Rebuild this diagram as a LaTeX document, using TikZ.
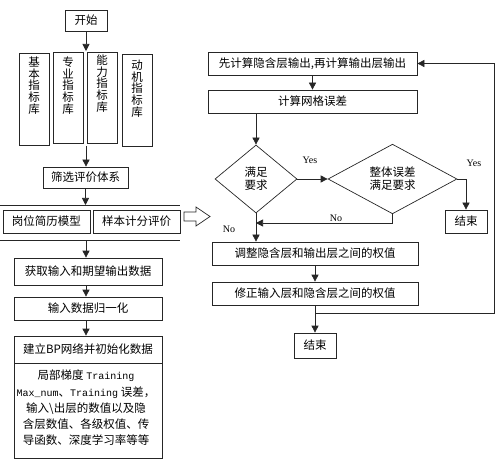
\documentclass[tikz,border=0pt]{standalone}
\usepackage{fontspec}
\setmainfont{Noto Sans CJK SC}
\newfontfamily\latinfont{Liberation Serif}
\newfontfamily\monofont{Liberation Mono}
\newcommand{\mtext}[1]{{\monofont\fontsize{10}{16.25}\selectfont #1}}
\usepackage{tikz}
\usetikzlibrary{shapes,arrows.meta,positioning}

\begin{document}
\begin{tikzpicture}[x=1pt, y=-1pt, text=black,
  box/.style={draw=black!85, line width=0.7pt, inner sep=1pt,
    font=\fontsize{11.5}{13}\selectfont},
  vtext/.style={anchor=north, align=center, inner sep=0pt,
    font=\fontsize{11.5}{11.7}\selectfont},
  dia/.style={draw=black!85, line width=0.7pt, diamond, inner sep=0pt,
    align=center, font=\fontsize{11.5}{13}\selectfont},
  yn/.style={inner sep=0pt, font=\latinfont\fontsize{10}{12}\selectfont},
  arr/.style={draw=black!85, line width=0.7pt, -{Triangle[length=7pt,width=7pt]}},
  line/.style={draw=black!85, line width=0.7pt}]
\useasboundingbox (0,0) rectangle (500,462);

% left column
\path (86,20.5) node (start) [box, minimum width=42pt, minimum height=21pt] {开始};

\path (34,99) node (lib1) [box, minimum width=30pt, minimum height=92pt] {};
\path (68,97.5) node (lib2) [box, minimum width=30pt, minimum height=91pt] {};
\path (102,97.5) node (lib3) [box, minimum width=30pt, minimum height=91pt] {};
\path (137,100) node (lib4) [box, minimum width=30pt, minimum height=92pt] {};
\path (lib1.north)+(0,4) node (lib1txt) [vtext] {基\\本\\指\\标\\库};
\path (lib2.north)+(0,5) node (lib2txt) [vtext] {专\\业\\指\\标\\库};
\path (lib3.north)+(0,3) node (lib3txt) [vtext] {能\\力\\指\\标\\库};
\path (lib4.north)+(0,6) node (lib4txt) [vtext] {动\\机\\指\\标\\库};

\coordinate (libtop) at (86,51);
\coordinate (libbot) at (86,146);
\draw[arr] (start.south) -- (libtop);

\path (85.5,177.5) node (screen) [box, minimum width=85pt, minimum height=21pt] {筛选评价体系};
\draw[arr] (libbot) -- (libbot |- screen.north);

\coordinate (lineA) at (0,205);
\coordinate (lineB) at (86,240);
\draw[line] (lineA) -- (180,205);
\draw[line] (0,240) -- (180,240);
\draw[arr] (screen.south) -- (screen.south |- lineA);

\path (46.5,221.5) node (model) [box, minimum width=87pt, minimum height=23pt] {岗位简历模型};
\path (136.5,221.5) node (sample) [box, minimum width=87pt, minimum height=23pt] {样本计分评价};

% hollow block arrow
\draw[line] (184,212) -- (196,212) -- (196,207) -- (210,216.5)
  -- (196,226) -- (196,221) -- (184,221) -- cycle;

\path (88,271.5) node (getdata) [box, minimum width=148pt, minimum height=27pt] {获取输入和期望输出数据};
\path (88,308.5) node (norm) [box, minimum width=148pt, minimum height=23pt] {输入数据归一化};
\path (88,349.5) node (bpnet) [box, minimum width=148pt, minimum height=27pt] {建立BP网络并初始化数据};
\path (88,410.5) node (param) [box, minimum width=148pt, minimum height=95pt] {};
\path (86,408) node (paramtxt) [align=center, inner sep=0pt,
    font=\fontsize{11.5}{16.25}\selectfont]
  {局部梯度 \mtext{Training}\\
   \mtext{Max\_num}、\mtext{Training} 误差，\\
   输入\textbackslash 出层的数值以及隐\\
   含层数值、各级权值、传\\
   导函数、深度学习率等等};

\draw[arr] (lineB) -- (lineB |- getdata.north);
\draw[arr] (getdata.south -| lineB) -- (norm.north -| lineB);
\draw[arr] (norm.south -| lineB) -- (bpnet.north -| lineB);

% right column
\path (312.5,63.5) node (hidden) [box, minimum width=209pt, minimum height=23pt] {先计算隐含层输出,再计算输出层输出};
\path (312.5,101.5) node (neterr) [box, minimum width=209pt, minimum height=23pt] {计算网格误差};
\draw[arr] (hidden.south) -- (neterr.north);

\path (256,179) node (meet) [dia, minimum width=82pt, minimum height=68pt] {满足\\要求};
\path (392.5,179) node (total) [dia, minimum width=129pt, minimum height=68pt] {整体误差\\满足要求};
\draw[arr] (meet.north |- neterr.south) -- (meet.north);
\draw[arr] (meet.east) -- (total.west);

\path (466,221.5) node (endA) [box, minimum width=42pt, minimum height=23pt] {结束};
\draw[arr] (total.east) -| (endA.north);

\path (315,253.5) node (adjust) [box, minimum width=206pt, minimum height=23pt] {调整隐含层和输出层之间的权值};
\path (315,293.5) node (fix) [box, minimum width=206pt, minimum height=23pt] {修正输入层和隐含层之间的权值};
\path (315,345.5) node (endB) [box, minimum width=42pt, minimum height=25pt] {结束};

\coordinate (back) at (256,223);
\draw[arr] (meet.south) -- (meet.south |- adjust.north);
\draw[arr] (total.south) |- (back);
\draw[arr] (adjust.south) -- (fix.north);
\draw[arr] (fix.south) -- (endB.north);

% back to the first step
\coordinate (loop) at (494,313);
\draw[arr] (fix.south |- loop) -- (loop) |- (hidden.east);

\path (310,160) node (yesA) [yn] {Yes};
\path (474,163) node (yesB) [yn] {Yes};
\path (336,218) node (noA) [yn] {No};
\path (229,229) node (noB) [yn] {No};

\end{tikzpicture}
\end{document}
